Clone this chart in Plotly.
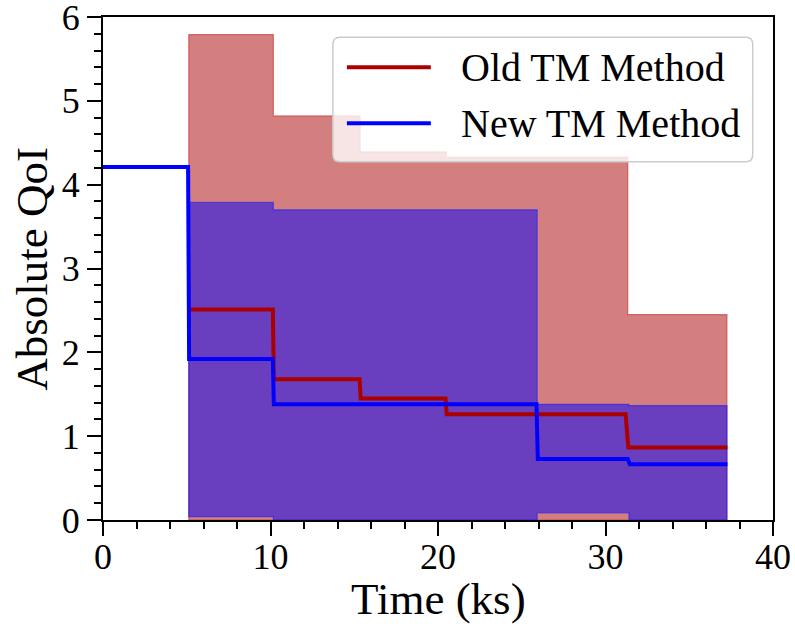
import plotly.graph_objects as go

# Mean QoI traces (time in ks, value)
old_t = [5.12, 10.14, 10.20, 15.32, 15.38, 20.45, 20.52, 31.20, 31.36, 37.28]
old_v = [2.51, 2.51, 1.68, 1.68, 1.45, 1.45, 1.26, 1.26, 0.866, 0.866]
new_t = [0.0, 5.08, 5.14, 10.14, 10.20, 25.88, 25.96, 31.33, 31.45, 37.28]
new_v = [4.21, 4.21, 1.92, 1.92, 1.38, 1.38, 0.727, 0.727, 0.664, 0.664]

# Uncertainty bands: piecewise-constant bounds between edges
old_hi_edges = [5.12, 10.17, 15.35, 20.50, 31.33, 37.25]
old_hi = [5.79, 4.82, 4.39, 4.33, 2.45]
old_lo_edges = [5.12, 10.17, 15.35, 20.50, 31.33, 37.25]
old_lo = [0.0, 0.0, 0.0, 0.0, 0.0]

new_hi_edges = [5.12, 10.17, 25.92, 31.40, 37.25]
new_hi = [3.79, 3.70, 1.38, 1.365]
new_lo_edges = [5.12, 10.17, 25.92, 31.40, 37.25]
new_lo = [0.04, 0.0, 0.085, 0.0]

x_ticks = [0, 10, 20, 30, 40]
y_ticks = [0, 1, 2, 3, 4, 5, 6]

series_names = ["Old TM Method", "New TM Method"]
x_title = "Time (ks)"
y_title = "Absolute QoI"
RED = "rgb(170,0,0)"
BLUE = "rgb(0,0,255)"
FONT = "Liberation Serif, Times New Roman, serif"


def step_path(edges, levels):
    xs, ys = [], []
    for i, lvl in enumerate(levels):
        xs += [edges[i], edges[i + 1]]
        ys += [lvl, lvl]
    return xs, ys


def band(hi_edges, hi, lo_edges, lo):
    ux, uy = step_path(hi_edges, hi)
    lx, ly = step_path(lo_edges, lo)
    return ux + lx[::-1] + [ux[0]], uy + ly[::-1] + [uy[0]]


fig = go.Figure()

bx, by = band(old_hi_edges, old_hi, old_lo_edges, old_lo)
fig.add_trace(go.Scatter(x=bx, y=by, mode="lines", fill="toself",
                         fillcolor="rgba(170,0,0,0.5)",
                         line=dict(color="rgba(200,30,30,0.55)", width=1.2),
                         hoverinfo="skip", showlegend=False))
bx, by = band(new_hi_edges, new_hi, new_lo_edges, new_lo)
fig.add_trace(go.Scatter(x=bx, y=by, mode="lines", fill="toself",
                         fillcolor="rgba(0,0,255,0.5)",
                         line=dict(color="rgba(30,30,255,0.6)", width=1.2),
                         hoverinfo="skip", showlegend=False))

fig.add_trace(go.Scatter(x=old_t, y=old_v, mode="lines", name=series_names[0],
                         line=dict(color=RED, width=4), showlegend=False))
fig.add_trace(go.Scatter(x=new_t, y=new_v, mode="lines", name=series_names[1],
                         line=dict(color=BLUE, width=4), showlegend=False))

axis_common = dict(
    showline=True, linecolor="black", linewidth=2, mirror=True,
    ticks="outside", ticklen=14, tickwidth=1.5, tickcolor="black",
    showgrid=False, zeroline=False, automargin=False,
    ticklabeloverflow="allow",
    tickfont=dict(family=FONT, size=36, color="black"),
)

fig.update_xaxes(range=[0, 40], tickvals=x_ticks, ticktext=[str(v) for v in x_ticks],
                 ticklabelstandoff=-10,
                 minor=dict(dtick=2, ticks="outside", ticklen=7, tickwidth=1.5,
                            tickcolor="black", showgrid=False),
                 **axis_common)
fig.update_yaxes(range=[0, 6], tickvals=y_ticks, ticktext=[str(v) for v in y_ticks],
                 minor=dict(dtick=0.2, ticks="outside", ticklen=7, tickwidth=1.5,
                            tickcolor="black", showgrid=False),
                 **axis_common)

# Pixel -> paper helpers for the frame, titles and legend box
W, H = 795, 630
ML, MR, MT, MB = 102.7, 22, 17, 110
PW, PH = W - ML - MR, H - MT - MB


def px(x):
    return (x - ML) / PW


def py(y):
    return (H - MB - y) / PH


annotations = [
    dict(text=x_title, xref="paper", yref="paper", x=px(438), y=py(599),
         xanchor="center", yanchor="middle", showarrow=False,
         font=dict(family=FONT, size=45, color="black")),
    dict(text=y_title, xref="paper", yref="paper", x=px(31), y=py(268.5),
         xanchor="center", yanchor="middle", showarrow=False, textangle=-90,
         font=dict(family=FONT, size=45, color="black")),
]

x0, x1, y0, y1 = px(332.7), px(752.7), py(161.7), py(37.3)
rx, ry = 7 / PW, 7 / PH
legend_path = (
    f"M{x0 + rx},{y1} L{x1 - rx},{y1} Q{x1},{y1} {x1},{y1 - ry} "
    f"L{x1},{y0 + ry} Q{x1},{y0} {x1 - rx},{y0} "
    f"L{x0 + rx},{y0} Q{x0},{y0} {x0},{y0 + ry} "
    f"L{x0},{y1 - ry} Q{x0},{y1} {x0 + rx},{y1} Z"
)
shapes = [dict(type="path", path=legend_path, xref="paper", yref="paper",
               fillcolor="rgba(255,255,255,0.8)", line=dict(color="rgb(204,204,204)", width=1.5),
               layer="above")]
for name, color, ypx in [(series_names[0], RED, 67.3), (series_names[1], BLUE, 123.3)]:
    shapes.append(dict(type="line", xref="paper", yref="paper",
                       x0=px(346.7), x1=px(430.7), y0=py(ypx), y1=py(ypx),
                       line=dict(color=color, width=4), layer="above"))
    annotations.append(dict(text=name, xref="paper", yref="paper",
                            x=px(459), y=py(ypx), xanchor="left", yanchor="middle",
                            showarrow=False,
                            font=dict(family=FONT, size=40, color="black")))

fig.update_layout(
    width=W, height=H,
    margin=dict(l=ML, r=MR, t=MT, b=MB, autoexpand=False),
    plot_bgcolor="white", paper_bgcolor="white",
    shapes=shapes, annotations=annotations,
    showlegend=False,
)

fig.write_html("out.html")
